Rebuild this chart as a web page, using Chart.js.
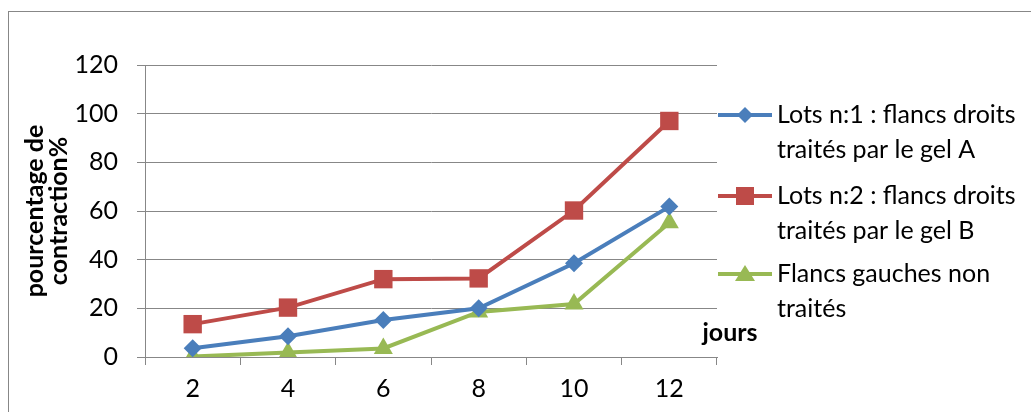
<!DOCTYPE html>
<html>
<head>
<meta charset="utf-8">
<script src="https://cdn.jsdelivr.net/npm/chart.js@4.4.1/dist/chart.umd.min.js"></script>
<style>
  html, body { margin: 0; padding: 0; background: #fff; }
  #wrap { width: 1031px; height: 412px; }
</style>
</head>
<body>
<div id="wrap"><canvas id="chart" width="1031" height="412"></canvas></div>
<script>
const days = ['2', '4', '6', '8', '10', '12']
const lot1 = [3.6, 8.5, 15.2, 20, 38.5, 61.8]
const lot2 = [13.5, 20.3, 32, 32.3, 60.2, 97]
const gauche = [0.2, 1.8, 3.5, 18.5, 21.8, 55.2]
const seriesNames = [
    ['Lots n:1 : flancs droits', 'traités par le gel A'],
    ['Lots n:2 : flancs droits', 'traités par le gel B'],
    ['Flancs gauches non', 'traités']
]
const yTitle = ['pourcentage de', 'contraction%']
const xTitle = 'jours'

const FONT = 'Lato'
const GRID = '#878787'
const colors = ['#4a7ebb', '#be4b48', '#98b954']
const styles = ['rectRot', 'rect', 'triangle']

// frame around the whole chart + axis title "jours" + wrapped legend
const extras = {
    id: 'extras',
    afterDraw(chart) {
        const ctx = chart.ctx
        ctx.save()
        ctx.strokeStyle = GRID
        ctx.lineWidth = 1
        ctx.strokeRect(8.5, 11.5, 1200, 600)

        ctx.fillStyle = '#000'
        ctx.font = 'bold 25px ' + FONT
        ctx.textAlign = 'center'
        ctx.textBaseline = 'middle'
        ctx.fillText(xTitle, 730, 333)

        const rows = [115, 196, 274]
        chart.data.datasets.forEach((ds, i) => {
            const y = rows[i]
            ctx.strokeStyle = ds.borderColor
            ctx.lineWidth = 4
            ctx.beginPath()
            ctx.moveTo(718, y)
            ctx.lineTo(772, y)
            ctx.stroke()
            ctx.fillStyle = ds.backgroundColor
            ctx.beginPath()
            if (ds.pointStyle === 'rectRot') {
                ctx.moveTo(745, y - 8); ctx.lineTo(753, y); ctx.lineTo(745, y + 8); ctx.lineTo(737, y)
            } else if (ds.pointStyle === 'rect') {
                ctx.rect(736, y - 9, 18, 18)
            } else {
                ctx.moveTo(745, y - 9); ctx.lineTo(755, y + 7); ctx.lineTo(735, y + 7)
            }
            ctx.closePath()
            ctx.fill()

            ctx.fillStyle = '#000'
            ctx.font = '25px ' + FONT
            ctx.textAlign = 'left'
            seriesNames[i].forEach((line, k) => ctx.fillText(line, 777, y + k * 35))
        })
        ctx.restore()
    }
}

const makeSet = (label, data, i) => ({
    label: label.join(' '),
    data: data,
    borderColor: colors[i],
    backgroundColor: colors[i],
    borderWidth: 4,
    pointStyle: styles[i],
    pointRadius: i === 1 ? 13 : (i === 0 ? 9 : 11),
    pointHoverRadius: i === 1 ? 13 : (i === 0 ? 9 : 11),
    pointBorderWidth: 0,
    tension: 0
})

const ctx = document.getElementById('chart')
new Chart(ctx, {
    type: 'line',
    data: {
        labels: days,
        datasets: [
            makeSet(seriesNames[0], lot1, 0),
            makeSet(seriesNames[1], lot2, 1),
            makeSet(seriesNames[2], gauche, 2)
        ]
    },
    options: {
        responsive: false,
        animation: false,
        layout: { padding: { top: 65, right: 314, bottom: 0, left: 0 } },
        plugins: {
            legend: { display: false },
            tooltip: { enabled: false }
        },
        scales: {
            x: {
                offset: true,
                grid: { offset: true, drawOnChartArea: false, drawTicks: true, tickLength: 8, color: GRID },
                border: { color: GRID, width: 1 },
                ticks: { color: '#000', font: { family: FONT, size: 25 }, padding: 9 },
                afterFit(scale) { scale.height = 55 }
            },
            y: {
                min: 0,
                max: 120,
                ticks: { stepSize: 20, color: '#000', font: { family: FONT, size: 25 }, padding: 19 },
                grid: { color: GRID, tickLength: 8, lineWidth: 1 },
                border: { color: GRID, width: 1 },
                title: {
                    display: true,
                    text: yTitle,
                    color: '#000',
                    font: { family: FONT, size: 25, weight: 'bold', lineHeight: '24px' },
                    padding: { top: 23, bottom: 0 }
                },
                afterFit(scale) { scale.width = 145 }
            }
        }
    },
    plugins: [extras]
});
</script>
</body>
</html>
